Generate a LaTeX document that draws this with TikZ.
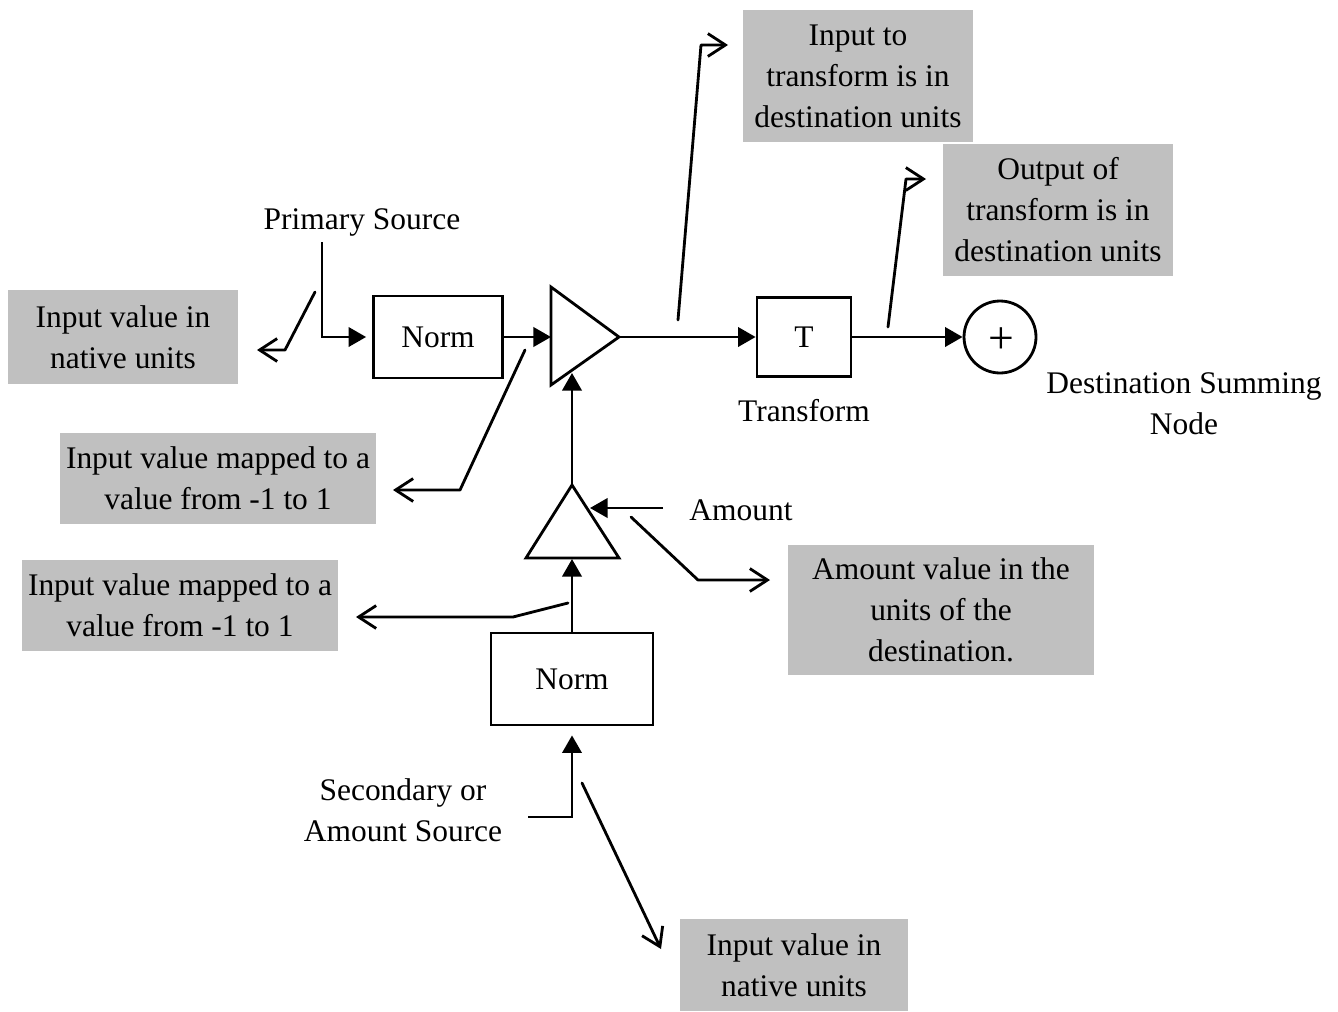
\documentclass[tikz,border=0pt]{standalone}
\usepackage{fontspec}
\setmainfont{Liberation Serif}
\usetikzlibrary{arrows.meta}
\definecolor{boxgray}{HTML}{C0C0C0}
\begin{document}
\begin{tikzpicture}[x=0.02cm,y=-0.02cm,line width=1.6pt,
  every node/.style={font=\fontsize{17.9}{23.3}\selectfont, inner sep=0pt, align=center},
  note/.style={fill=boxgray},
  block/.style={draw, line width=1.6pt},
  flow/.style={-{Triangle[length=10pt,width=11pt]}},
  callout/.style={-{Straight Barb[length=10pt,width=13pt]}, line cap=round, line join=round}]
\useasboundingbox (0,0) rectangle (1338,1011);

% grey note boxes
\node[note, minimum width=4.6cm, minimum height=1.88cm] (nIn1) at (123,337) {Input value in\\native units};
\node[note, minimum width=6.32cm, minimum height=1.82cm] (nMap1) at (218,478) {Input value mapped to a\\value from -1 to 1};
\node[note, minimum width=6.32cm, minimum height=1.82cm] (nMap2) at (180,605) {Input value mapped to a\\value from -1 to 1};
\node[note, minimum width=4.6cm, minimum height=2.64cm] (nTin) at (858,76) {Input to\\transform is in\\destination units};
\node[note, minimum width=4.6cm, minimum height=2.66cm] (nTout) at (1058,210) {Output of\\transform is in\\destination units};
\node[note, minimum width=6.12cm, minimum height=2.6cm] (nAmt) at (941,610) {Amount value in the\\units of the\\destination.};
\node[note, minimum width=4.58cm, minimum height=1.84cm] (nIn2) at (794,965) {Input value in\\native units};

% blocks
\node[block, minimum width=2.58cm, minimum height=1.64cm] (norm1) at (438,337) {Norm};
\node[block, minimum width=1.88cm, minimum height=1.58cm] (T) at (804,337) {T};
\node[block, circle, minimum size=1.44cm] (sum) at (1000,337) {};
\node[font=\fontsize{26}{30}\selectfont] (plus) at (1001,341) {+};
\node[block, minimum width=3.24cm, minimum height=1.84cm] (norm2) at (572,679) {Norm};

% triangles
\draw (551,287) -- (619,337) -- (551,385) -- cycle;
\draw (572,485) -- (619,558) -- (526,558) -- cycle;
\coordinate (amp1w) at (551,337);
\coordinate (amp1o) at (619,337);
\coordinate (amp1b) at (572,373);
\coordinate (amp2o) at (572,485);
\coordinate (amp2b) at (572,559);
\coordinate (amp2r) at (590,508);

% plain labels
\node (prim) at (362,222) {Primary Source};
\node (trans) at (804,411) {Transform};
\node (dest) at (1184,404) {Destination Summing\\Node};
\node (amt) at (741,510) {Amount};
\node (sec) at (403,810) {Secondary or\\Amount Source};

% main flow
\coordinate (p1) at (322,242);
\coordinate (p1b) at (322,337);
\draw[flow] (p1) -- (p1b) -- ([xshift=-0.12cm]norm1.west);
\draw[flow] (norm1.east) -- (amp1w);
\draw[flow] (amp1o) -- (T.west);
\draw[flow] (T.east) -- (sum.west);
\draw[flow] (amp2o) -- (amp1b);
\draw[flow] (norm2.north) -- (amp2b);
\coordinate (a1) at (663,508);
\draw[flow] (a1) -- (amp2r);
\coordinate (s1) at (528,817);
\coordinate (s1b) at (572,817);
\draw[flow] (s1) -- (s1b) -- ([yshift=-0.18cm]norm2.south);

% callouts
\coordinate (c1a) at (315,292); \coordinate (c1b) at (285,350); \coordinate (c1c) at (257,350);
\draw[callout] (c1a) -- (c1b) -- (c1c);
\coordinate (c2a) at (525,350); \coordinate (c2b) at (460,490); \coordinate (c2c) at (393,490);
\draw[callout] (c2a) -- (c2b) -- (c2c);
\coordinate (c3a) at (678,320); \coordinate (c3b) at (701,45); \coordinate (c3c) at (728,45);
\draw[callout] (c3a) -- (c3b) -- (c3c);
\coordinate (c4a) at (888,327); \coordinate (c4b) at (906,179); \coordinate (c4c) at (926,179);
\draw[callout] (c4a) -- (c4b) -- (c4c);
\coordinate (c5a) at (631,517); \coordinate (c5b) at (698,580); \coordinate (c5c) at (770,580);
\draw[callout] (c5a) -- (c5b) -- (c5c);
\coordinate (c6a) at (568,603); \coordinate (c6b) at (513,617); \coordinate (c6c) at (356,617);
\draw[callout] (c6a) -- (c6b) -- (c6c);
\coordinate (c7a) at (582,783); \coordinate (c7b) at (661,949);
\draw[callout] (c7a) -- (c7b);
\end{tikzpicture}
\end{document}
